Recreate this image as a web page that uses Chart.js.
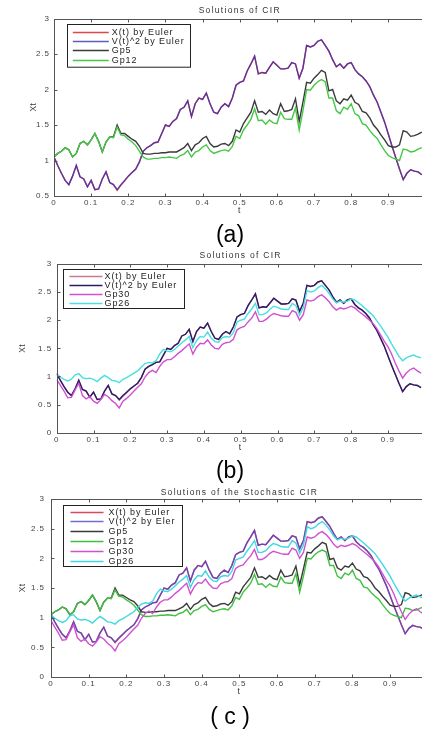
<!DOCTYPE html>
<html>
<head>
<meta charset="utf-8">
<script src="https://cdn.jsdelivr.net/npm/chart.js@4.4.0/dist/chart.umd.min.js"></script>
<style>
  html, body { margin: 0; padding: 0; background: #fff; overflow: hidden; }
  body { width: 422px; height: 730px; position: relative; }
  .panel { position: absolute; left: 0; width: 432px; height: 225px; }
  .tag { position: absolute; left: 0; width: 460px; text-align: center; line-height: 1;
         font: 23px Arial, "Liberation Sans", sans-serif; color: #000; }
</style>
</head>
<body>
<div class="panel" style="top:0"><canvas id="cA" width="432" height="225"></canvas></div>
<div class="tag" style="top:221px">(a)</div>
<div class="panel" style="top:240px"><canvas id="cB" width="432" height="225"></canvas></div>
<div class="tag" style="top:457px">(b)</div>
<div class="panel" style="top:480px"><canvas id="cC" width="432" height="225"></canvas></div>
<div class="tag" style="top:703px">( c )</div>
<script>
// sample times of the paths
const tGrid = [
  0.00,0.01,0.02,0.03,0.04,0.05,0.06,0.07,0.08,0.09,
  0.10,0.11,0.12,0.13,0.14,0.15,0.16,0.17,0.18,0.19,
  0.20,0.21,0.22,0.23,0.24,0.25,0.26,0.27,0.28,0.29,
  0.30,0.31,0.32,0.33,0.34,0.35,0.36,0.37,0.38,0.39,
  0.40,0.41,0.42,0.43,0.44,0.45,0.46,0.47,0.48,0.49,
  0.50,0.51,0.52,0.53,0.54,0.55,0.56,0.57,0.58,0.59,
  0.60,0.61,0.62,0.63,0.64,0.65,0.66,0.67,0.68,0.69,
  0.70,0.71,0.72,0.73,0.74,0.75,0.76,0.77,0.78,0.79,
  0.80,0.81,0.82,0.83,0.84,0.85,0.86,0.87,0.88,0.89,
  0.90,0.91,0.92,0.93,0.94,0.95,0.96,0.97,0.98,0.99];

// X(t) by Euler and V(t)^2 by Euler lie on top of each other
const xEuler = [
  1.05,0.93,0.82,0.72,0.66,0.78,0.93,0.77,0.74,0.63,
  0.72,0.59,0.60,0.74,0.84,0.69,0.66,0.58,0.65,0.71,
  0.78,0.83,0.88,0.98,1.13,1.18,1.21,1.25,1.26,1.38,
  1.50,1.48,1.55,1.59,1.72,1.75,1.84,1.62,1.80,1.88,
  1.86,1.95,1.80,1.68,1.66,1.75,1.80,1.76,1.88,2.06,
  2.10,2.12,2.26,2.36,2.47,2.22,2.24,2.23,2.31,2.39,
  2.34,2.29,2.29,2.30,2.38,2.36,2.16,2.30,2.62,2.60,
  2.62,2.68,2.70,2.62,2.54,2.42,2.32,2.36,2.30,2.36,
  2.38,2.28,2.22,2.18,2.12,2.04,1.92,1.82,1.68,1.54,
  1.37,1.20,1.04,0.88,0.73,0.82,0.87,0.85,0.84,0.80];
const vEuler = [
  1.05,0.93,0.82,0.72,0.66,0.78,0.93,0.77,0.74,0.63,
  0.72,0.59,0.60,0.74,0.84,0.69,0.66,0.59,0.66,0.72,
  0.78,0.83,0.88,0.98,1.13,1.18,1.21,1.25,1.26,1.38,
  1.50,1.48,1.55,1.59,1.72,1.75,1.84,1.62,1.80,1.88,
  1.86,1.95,1.80,1.68,1.66,1.75,1.80,1.76,1.88,2.06,
  2.10,2.12,2.26,2.36,2.47,2.22,2.24,2.23,2.31,2.39,
  2.34,2.29,2.29,2.30,2.38,2.36,2.16,2.30,2.62,2.60,
  2.62,2.68,2.70,2.62,2.54,2.42,2.32,2.36,2.30,2.36,
  2.38,2.28,2.22,2.18,2.12,2.04,1.92,1.82,1.68,1.54,
  1.37,1.20,1.04,0.88,0.73,0.82,0.87,0.85,0.84,0.80];
const gp5 = [
  1.05,1.10,1.13,1.18,1.15,1.05,1.10,1.24,1.27,1.22,
  1.29,1.38,1.27,1.12,1.26,1.33,1.33,1.50,1.38,1.38,
  1.34,1.30,1.27,1.20,1.10,1.09,1.09,1.10,1.10,1.11,
  1.11,1.12,1.12,1.12,1.15,1.18,1.24,1.14,1.22,1.25,
  1.31,1.34,1.24,1.19,1.20,1.23,1.24,1.21,1.27,1.43,
  1.40,1.52,1.60,1.68,1.84,1.68,1.69,1.65,1.71,1.66,
  1.64,1.80,1.69,1.70,1.72,1.87,1.55,1.82,2.10,2.09,
  2.16,2.21,2.27,2.24,1.98,2.00,1.84,1.80,1.87,1.85,
  1.92,1.82,1.79,1.69,1.67,1.60,1.50,1.44,1.36,1.29,
  1.21,1.19,1.19,1.22,1.42,1.40,1.34,1.35,1.37,1.40];
const gp12 = [
  1.05,1.10,1.13,1.18,1.15,1.05,1.10,1.24,1.27,1.22,
  1.29,1.38,1.27,1.12,1.26,1.33,1.32,1.47,1.36,1.35,
  1.30,1.26,1.21,1.13,1.05,1.02,1.02,1.03,1.03,1.04,
  1.04,1.05,1.04,1.03,1.07,1.09,1.14,1.05,1.12,1.14,
  1.19,1.22,1.14,1.10,1.12,1.14,1.15,1.13,1.20,1.34,
  1.31,1.43,1.50,1.58,1.73,1.56,1.57,1.51,1.57,1.53,
  1.52,1.68,1.59,1.58,1.58,1.74,1.43,1.70,2.00,1.99,
  2.06,2.11,2.14,2.11,1.88,1.88,1.70,1.66,1.75,1.72,
  1.80,1.66,1.63,1.52,1.50,1.42,1.36,1.31,1.22,1.14,
  1.07,1.04,1.02,1.00,1.16,1.15,1.12,1.13,1.16,1.18];
const gp30 = [
  0.95,0.84,0.74,0.62,0.63,0.76,0.88,0.66,0.60,0.64,
  0.56,0.52,0.59,0.68,0.64,0.57,0.52,0.44,0.56,0.61,
  0.67,0.74,0.81,0.87,0.99,1.07,1.11,1.07,1.18,1.26,
  1.30,1.30,1.35,1.41,1.46,1.52,1.58,1.40,1.52,1.59,
  1.58,1.65,1.56,1.50,1.49,1.57,1.60,1.61,1.66,1.83,
  1.87,1.89,1.97,2.04,2.15,1.98,1.98,2.02,2.08,2.12,
  2.10,2.08,2.07,2.07,2.17,2.14,2.00,2.10,2.36,2.34,
  2.36,2.42,2.45,2.40,2.33,2.24,2.18,2.22,2.20,2.22,
  2.25,2.22,2.16,2.11,2.06,2.00,1.94,1.85,1.74,1.63,
  1.53,1.40,1.24,1.10,0.97,1.06,1.12,1.15,1.10,1.06];
const gp26 = [
  1.05,0.99,0.95,0.92,0.95,1.03,1.05,0.98,0.96,0.97,
  0.95,0.91,0.97,1.02,0.98,0.93,0.92,0.89,0.95,0.98,
  1.02,1.06,1.10,1.17,1.23,1.25,1.24,1.28,1.40,1.48,
  1.45,1.44,1.48,1.54,1.60,1.65,1.71,1.51,1.64,1.71,
  1.70,1.79,1.68,1.62,1.61,1.69,1.71,1.70,1.78,1.97,
  2.00,2.02,2.12,2.20,2.30,2.10,2.10,2.13,2.20,2.25,
  2.23,2.20,2.19,2.19,2.30,2.26,2.09,2.22,2.53,2.50,
  2.52,2.58,2.62,2.56,2.48,2.38,2.31,2.34,2.32,2.34,
  2.38,2.36,2.31,2.26,2.20,2.14,2.08,1.99,1.90,1.80,
  1.70,1.58,1.47,1.36,1.28,1.33,1.36,1.38,1.35,1.33];

// tick labels
const xTicks = [0, 0.1, 0.2, 0.3, 0.4, 0.5, 0.6, 0.7, 0.8, 0.9, 1];
const yTicksA = [0.5, 1, 1.5, 2, 2.5, 3];
const yTicksBC = [0, 0.5, 1, 1.5, 2, 2.5, 3];

const FONT = 'Arial, "Liberation Sans", sans-serif';

// MATLAB-looking box: inward ticks on all sides, title, axis labels, boxed legend
const matlab = {
  id: 'matlab',
  beforeDraw(chart) { chart.ctx.letterSpacing = '1px'; },
  afterDraw(chart, args, o) {
    const { ctx, chartArea: a, scales: { x, y } } = chart;
    const L = Math.round(a.left) + .5, R = Math.round(a.right) + .5;
    const T = Math.round(a.top) + .5, B = Math.round(a.bottom) + .5;
    ctx.save();
    ctx.strokeStyle = '#555'; ctx.lineWidth = 1;
    ctx.strokeRect(L, T, R - L, B - T);
    ctx.beginPath();
    xTicks.forEach(v => {
      const px = Math.round(x.getPixelForValue(v)) + .5;
      ctx.moveTo(px, B); ctx.lineTo(px, B - 3);
      ctx.moveTo(px, T); ctx.lineTo(px, T + 3);
    });
    o.yTicks.forEach(v => {
      const py = Math.round(y.getPixelForValue(v)) + .5;
      ctx.moveTo(L, py); ctx.lineTo(L + 3, py);
      ctx.moveTo(R, py); ctx.lineTo(R - 3, py);
    });
    ctx.stroke();

    ctx.fillStyle = '#333';
    ctx.font = `8.5px ${FONT}`;
    ctx.letterSpacing = '1.3px';
    ctx.textAlign = 'center'; ctx.textBaseline = 'middle';
    const cx = (a.left + a.right) / 2;
    ctx.fillText(o.title, cx, a.top + o.titleDy);
    ctx.fillText('t', cx, a.bottom + 14.5);
    ctx.save();
    ctx.letterSpacing = '0.3px';
    ctx.translate(a.left + o.ylabDx, (a.top + a.bottom) / 2);
    ctx.rotate(-Math.PI / 2);
    ctx.fillText('Xt', 0, 0);
    ctx.restore();

    const lg = o.legend;
    const bx = Math.round(a.left + lg.dx) + .5, by = Math.round(a.top + lg.dy) + .5;
    ctx.fillStyle = '#fff'; ctx.fillRect(bx, by, lg.w, lg.h);
    ctx.strokeStyle = '#222'; ctx.strokeRect(bx, by, lg.w, lg.h);
    ctx.textAlign = 'left';
    ctx.font = `9px ${FONT}`;
    ctx.letterSpacing = '0.9px';
    ctx.wordSpacing = '0px';
    ctx.lineWidth = 1.3;
    chart.data.datasets.forEach((ds, i) => {
      const ry = Math.round(by + lg.first + i * lg.step) + .5;
      ctx.strokeStyle = ds.borderColor;
      ctx.beginPath(); ctx.moveTo(bx + lg.l0, ry); ctx.lineTo(bx + lg.l1, ry); ctx.stroke();
      ctx.fillStyle = '#222';
      ctx.fillText(ds.label, bx + lg.tx, ry);
    });
    ctx.restore();
  },
};

function makePanel(id, p) {
  const tickFont = { size: 8, family: FONT };
  return new Chart(document.getElementById(id), {
    type: 'line',
    data: {
      datasets: p.series.map((s, i) => ({
        label: s[0],
        data: tGrid.map((t, k) => ({ x: t, y: s[1][k] })),
        borderColor: s[2], borderWidth: 1.4, pointRadius: 0, tension: 0,
        order: -i,                       // later series drawn on top, as in MATLAB
      })),
    },
    options: {
      responsive: false, animation: false, devicePixelRatio: 1,
      layout: { padding: p.pad },
      plugins: { legend: { display: false }, tooltip: { enabled: false }, matlab: p.deco },
      scales: {
        x: {
          type: 'linear', min: 0, max: 1,
          afterBuildTicks: s => { s.ticks = xTicks.map(v => ({ value: v })); },
          afterFit: s => { s.height = 20; },
          ticks: { font: tickFont, color: '#444', padding: 2, maxRotation: 0, autoSkip: false,
                   callback: v => String(v) },
          grid: { display: false, drawTicks: false }, border: { display: false },
        },
        y: {
          type: 'linear', min: p.deco.yTicks[0], max: 3,
          afterBuildTicks: s => { s.ticks = p.deco.yTicks.map(v => ({ value: v })); },
          afterFit: s => { s.width = 30; },
          ticks: { font: tickFont, color: '#444', padding: p.yPad, autoSkip: false,
                   callback: v => String(v) },
          grid: { display: false, drawTicks: false }, border: { display: false },
        },
      },
    },
    plugins: [matlab],
  });
}

makePanel('cA', {
  pad: { left: 24, top: 18.5, right: 6.5, bottom: 9 }, yPad: 4,
  series: [
    ['X(t) by Euler', xEuler, '#e04848'],
    ['V(t)^2 by Euler', vEuler, 'rgba(60,48,176,0.8)'],
    ['Gp5', gp5, '#3a3a3a'],
    ['Gp12', gp12, '#46c846'],
  ],
  deco: { title: 'Solutions of CIR', titleDy: -8, ylabDx: -20.5, yTicks: yTicksA,
          legend: { dx: 12.7, dy: 5.5, w: 123, h: 42.7, first: 7, step: 9.4, l0: 5.3, l1: 41.3, tx: 44.3 } },
});

makePanel('cB', {
  pad: { left: 26.7, top: 24, right: 7.3, bottom: 12.3 }, yPad: 4.5,
  series: [
    ['X(t) by Euler', xEuler, '#c87898'],
    ['V(t)^2 by Euler', vEuler, '#2a1c64'],
    ['Gp30', gp30, '#d050d0'],
    ['Gp26', gp26, '#48e0e0'],
  ],
  deco: { title: 'Solutions of CIR', titleDy: -8, ylabDx: -34, yTicks: yTicksBC,
          legend: { dx: 6.3, dy: 5, w: 121, h: 39, first: 6, step: 9, l0: 6, l1: 39, tx: 41 } },
});

makePanel('cC', {
  pad: { left: 21, top: 19, right: 4, bottom: 8 }, yPad: 6,
  series: [
    ['X(t) by Euler', xEuler, '#d84860'],
    ['V(t)^2 by Eler', vEuler, 'rgba(80,70,200,0.8)'],
    ['Gp5', gp5, '#3a3a3a'],
    ['Gp12', gp12, '#40c040'],
    ['Gp30', gp30, '#d050d0'],
    ['Gp26', gp26, '#40d8e0'],
  ],
  deco: { title: 'Solutions of the Stochastic CIR', titleDy: -6, ylabDx: -28.5, yTicks: yTicksBC,
          legend: { dx: 12, dy: 6, w: 119, h: 61, first: 6, step: 9.8, l0: 7, l1: 40, tx: 45 } },
});
</script>
</body>
</html>
